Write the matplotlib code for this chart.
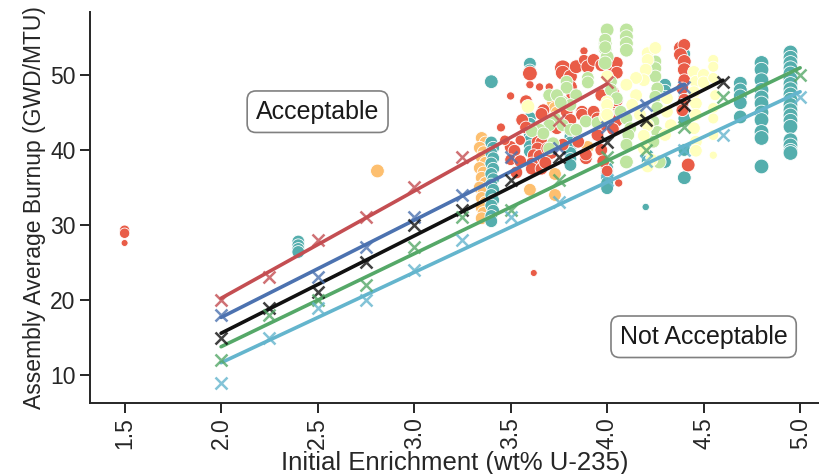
import numpy as np
import matplotlib
matplotlib.use("Agg")
import matplotlib.pyplot as plt
import seaborn as sns

# measured assemblies, one list per group: (enrichment, burnup, weight)
grp_orange = [
    (2.81, 37.2, 70),
    (3.35, 41.6, 60), (3.37, 41.0, 60), (3.34, 40.3, 60), (3.36, 39.7, 60),
    (3.35, 39.0, 60), (3.37, 38.3, 60), (3.34, 37.6, 60), (3.36, 37.0, 60),
    (3.35, 36.3, 60), (3.37, 35.6, 60), (3.34, 35.0, 60), (3.36, 34.3, 60),
    (3.35, 33.6, 60), (3.37, 33.0, 60), (3.35, 32.3, 60), (3.36, 31.6, 60),
    (3.35, 30.9, 60),
    (3.60, 34.7, 60), (3.73, 34.0, 60), (3.73, 36.8, 60),
    (3.73, 47.0, 60), (3.72, 46.3, 60), (3.73, 45.6, 60), (3.74, 45.0, 60),
    (3.73, 44.3, 60), (3.72, 43.6, 60), (3.73, 43.0, 60),
    (4.10, 53.9, 50), (3.90, 40.4, 60),
]

grp_teal = [
    (2.40, 27.8, 60), (2.40, 27.3, 60), (2.40, 26.8, 60), (2.40, 26.4, 60),
    (3.40, 49.1, 70),
    (3.40, 41.0, 60), (3.41, 40.3, 60), (3.40, 39.6, 60), (3.41, 38.9, 60),
    (3.40, 38.2, 60), (3.41, 37.5, 60), (3.40, 36.8, 60), (3.41, 36.1, 60),
    (3.40, 35.4, 60), (3.41, 34.7, 60), (3.40, 34.0, 60), (3.41, 33.3, 60),
    (3.40, 32.6, 60), (3.41, 31.9, 60), (3.40, 31.2, 60), (3.40, 30.5, 60),
    (3.60, 51.5, 60), (3.60, 50.6, 60), (3.60, 44.3, 60), (3.60, 43.5, 60),
    (3.60, 42.8, 60), (3.60, 42.0, 60), (3.60, 41.3, 60), (3.60, 40.5, 60),
    (3.60, 39.8, 60),
    (3.81, 43.3, 60), (3.81, 42.5, 60), (3.81, 41.8, 60), (3.81, 41.0, 60),
    (3.81, 40.3, 60), (3.81, 39.6, 60), (3.81, 38.8, 60), (3.81, 38.0, 60),
    (4.00, 37.6, 60), (4.00, 37.0, 60), (4.00, 36.3, 60), (4.00, 35.6, 60),
    (4.00, 34.9, 60),
    (4.21, 39.3, 60), (4.21, 38.5, 60), (4.20, 32.4, 20),
    (4.30, 48.7, 60), (4.30, 47.9, 60), (4.30, 47.1, 60), (4.30, 38.4, 60),
    (4.40, 52.8, 60), (4.40, 47.0, 60), (4.40, 45.0, 60), (4.40, 44.2, 60),
    (4.40, 40.0, 60), (4.40, 36.3, 70),
    (4.69, 48.9, 70), (4.69, 48.0, 70), (4.69, 47.2, 70), (4.69, 46.3, 70),
    (4.69, 44.4, 70),
    (4.80, 51.6, 80), (4.80, 50.7, 80), (4.80, 49.3, 80), (4.80, 48.0, 80),
    (4.80, 47.0, 80), (4.80, 46.2, 80), (4.80, 45.0, 80), (4.80, 44.0, 80),
    (4.80, 42.4, 80), (4.80, 41.6, 80), (4.80, 37.8, 80),
    (4.95, 53.0, 80), (4.95, 52.3, 80), (4.95, 51.6, 80), (4.95, 50.9, 80),
    (4.95, 50.2, 80), (4.95, 49.5, 80), (4.95, 48.8, 80), (4.95, 48.1, 80),
    (4.95, 47.4, 80), (4.95, 46.7, 80), (4.95, 46.0, 80), (4.95, 45.3, 80),
    (4.95, 44.6, 80), (4.95, 43.9, 80), (4.95, 43.1, 80), (4.95, 41.3, 80),
    (4.95, 40.6, 80), (4.95, 39.9, 80), (4.95, 39.6, 80),
]

grp_red = [
    (1.50, 29.3, 40), (1.50, 28.9, 40), (1.50, 27.6, 18),
    (3.62, 23.6, 18),
    (3.50, 47.2, 25), (3.60, 48.7, 25), (3.65, 48.4, 25), (3.70, 48.4, 25),
    (3.60, 50.2, 80), (3.77, 50.9, 100), (3.77, 50.3, 80), (3.81, 49.8, 70),
    (3.84, 51.1, 70), (3.88, 53.2, 25), (3.88, 52.0, 45), (3.90, 51.1, 70),
    (3.93, 52.0, 60), (3.97, 51.3, 60), (4.02, 51.3, 60), (4.05, 51.6, 60),
    (4.05, 50.3, 60), (3.81, 48.4, 70), (3.82, 47.3, 60), (3.79, 45.1, 60),
    (3.87, 45.1, 60), (3.87, 44.7, 60), (3.93, 45.1, 60), (3.95, 44.2, 60),
    (3.97, 43.3, 60), (4.02, 47.1, 60), (4.02, 46.2, 60), (4.05, 46.6, 60),
    (4.03, 44.7, 60), (4.05, 43.9, 60), (3.95, 42.0, 60), (3.71, 43.6, 60),
    (3.74, 42.9, 60), (3.64, 41.1, 60), (3.66, 41.0, 60), (3.64, 40.2, 60),
    (3.62, 39.3, 60), (3.65, 39.2, 60), (3.61, 38.2, 60), (3.61, 37.5, 60),
    (3.50, 40.4, 60), (3.52, 39.9, 60), (3.89, 38.9, 60), (3.89, 39.4, 60),
    (3.67, 45.3, 60), (3.66, 44.8, 60), (3.81, 44.0, 60), (3.85, 41.1, 60),
    (3.77, 40.7, 60), (3.69, 40.2, 60), (3.71, 39.6, 60), (3.97, 47.3, 60),
    (4.03, 47.7, 60), (3.45, 43.0, 30), (3.47, 41.3, 40), (3.55, 41.3, 40),
    (3.50, 38.7, 50), (3.58, 46.5, 60), (3.56, 44.0, 60), (3.58, 43.0, 60),
    (3.53, 37.0, 60), (3.55, 38.5, 60), (3.66, 37.5, 60), (3.68, 38.3, 60),
    (3.97, 40.0, 60), (3.98, 38.5, 60), (4.00, 37.2, 50), (4.06, 35.6, 25),
    (4.03, 42.8, 60),
    (4.38, 53.6, 70), (4.40, 54.0, 60), (4.38, 52.7, 70), (4.40, 51.8, 70),
    (4.40, 50.7, 70), (4.40, 49.3, 60), (4.39, 48.2, 60), (4.40, 46.7, 60),
    (4.39, 46.0, 60), (4.39, 45.3, 60), (4.42, 38.0, 70),
]

grp_green = [
    (4.00, 56.0, 70), (3.99, 54.2, 70), (3.99, 53.5, 70), (4.00, 52.4, 70),
    (3.99, 51.6, 70), (3.90, 49.6, 60), (3.90, 49.0, 60), (3.79, 49.1, 60),
    (3.79, 48.3, 60), (3.84, 47.3, 60), (3.77, 46.4, 60), (3.81, 46.0, 60),
    (3.89, 43.8, 60), (3.95, 43.6, 60), (3.73, 44.2, 60), (3.70, 43.3, 60),
    (3.65, 42.7, 60), (3.61, 42.5, 60), (3.67, 42.2, 60), (3.70, 47.3, 60),
    (3.74, 47.3, 60), (3.76, 46.3, 60), (3.77, 43.3, 60), (3.81, 42.7, 60),
    (3.84, 42.7, 60), (3.72, 40.9, 60), (3.70, 40.2, 60),
    (3.99, 54.7, 60), (3.99, 53.7, 60),
    (4.10, 56.0, 70), (4.10, 55.1, 70), (4.10, 54.2, 70), (4.10, 53.3, 70),
    (4.02, 49.1, 60), (4.02, 48.0, 60), (4.05, 46.9, 60), (4.07, 45.1, 60),
    (4.10, 44.2, 60), (4.12, 42.9, 60), (4.11, 42.0, 60), (4.10, 40.7, 60),
    (4.10, 38.4, 70),
    (4.25, 51.8, 60), (4.25, 50.9, 60), (4.25, 49.8, 60), (4.26, 48.2, 60),
    (4.25, 47.1, 60), (4.26, 45.6, 60), (4.24, 43.8, 60), (4.26, 42.4, 60),
    (4.24, 41.1, 60), (4.27, 38.4, 70),
]

grp_yellow = [
    (3.59, 45.8, 70), (4.00, 49.8, 60), (4.00, 46.4, 60), (4.00, 45.1, 60),
    (3.99, 44.4, 60), (4.00, 46.0, 60), (4.00, 44.7, 60),
    (4.21, 52.9, 60), (4.25, 53.6, 60), (4.21, 52.0, 60), (4.20, 50.7, 60),
    (4.19, 49.3, 60), (4.15, 49.6, 60), (4.10, 48.7, 60), (4.15, 47.3, 60),
    (4.13, 46.0, 60), (4.17, 44.7, 60), (4.21, 43.3, 60), (4.19, 41.9, 60),
    (4.19, 40.2, 60), (4.23, 38.7, 60), (4.21, 37.8, 60),
    (4.31, 46.9, 60), (4.31, 45.1, 60), (4.33, 43.3, 60), (4.30, 42.0, 60),
    (4.45, 50.4, 60), (4.46, 49.1, 60), (4.45, 47.7, 60), (4.46, 46.2, 60),
    (4.46, 44.7, 60), (4.45, 42.9, 60), (4.46, 41.1, 60), (4.46, 39.9, 60),
    (4.50, 50.0, 60), (4.50, 49.0, 60),
    (4.55, 52.0, 45), (4.55, 51.1, 45), (4.55, 49.6, 45), (4.56, 47.3, 45),
    (4.55, 45.6, 45), (4.55, 44.2, 45), (4.55, 42.0, 45), (4.55, 39.3, 25),
]

# limit curves: enrichment points and burnup for each curve
lim_x = {
    "r": [2.0, 2.25, 2.5, 2.75, 3.0, 3.25, 3.75, 4.0],
    "b": [2.0, 2.5, 2.75, 3.0, 3.25, 3.5, 3.75, 4.0, 4.2, 4.4],
    "k": [2.0, 2.25, 2.5, 2.75, 3.0, 3.25, 3.5, 3.75, 4.0, 4.2, 4.4, 4.6],
    "g": [2.0, 2.25, 2.5, 2.75, 3.0, 3.25, 3.5, 3.75, 4.0, 4.2, 4.4, 4.6, 5.0],
    "c": [2.0, 2.25, 2.5, 2.75, 3.0, 3.25, 3.5, 3.75, 4.0, 4.2, 4.4, 4.6, 5.0],
}
lim_y = {
    "r": [20, 23, 28, 31, 35, 39, 44, 49],
    "b": [18, 23, 27, 31, 34, 39, 40.3, 43, 46, 48.4],
    "k": [15, 19, 21, 25, 30, 32, 36, 39, 41, 44, 46, 49],
    "g": [12, 18, 20, 22, 27, 31, 32, 36, 39, 40, 43, 47, 50],
    "c": [9, 15, 19, 20, 24, 28, 31, 33, 36, 38.5, 40, 42, 47],
}
lim_col = {"r": "#c44e52", "b": "#4c72b0", "k": "#111111",
           "g": "#55a868", "c": "#64b5cd"}

sns.set_style("ticks")
plt.rcParams["font.family"] = ["Liberation Sans", "DejaVu Sans"]

fig = plt.figure(figsize=(8.2, 4.74), dpi=100)
ax = fig.add_axes([0.1098, 0.1498, 0.8902, 0.825])

pal = sns.color_palette("Spectral", 5)
groups = [(grp_orange, pal[1]), (grp_teal, pal[4]), (grp_red, pal[0]),
          (grp_green, pal[3]), (grp_yellow, pal[2])]
for pts, col in groups:
    a = np.array(pts)
    ax.scatter(a[:, 0], a[:, 1], s=a[:, 2] * 1.4, color=col,
               edgecolor="white", linewidth=0.6, zorder=2)

for key in ["r", "b", "k", "g", "c"]:
    x = np.array(lim_x[key])
    y = np.array(lim_y[key])
    m, c = np.polyfit(x, y, 1)
    xx = np.array([x.min(), x.max()])
    ax.plot(xx, m * xx + c, color=lim_col[key], lw=2.6, zorder=3)
    ax.plot(x, y, "x", color=lim_col[key], alpha=0.8, ms=8, mew=1.8, zorder=4)

box = dict(boxstyle="round,pad=0.35", fc="white", ec="0.5", lw=1.2)
ax.text(2.5, 45.1, "Acceptable", fontsize=18, ha="center", va="center",
        color="0.1", bbox=box)
ax.text(4.5, 15.1, "Not Acceptable", fontsize=18, ha="center", va="center",
        color="0.1", bbox=box)

ax.set_xlim(1.321, 5.103)
ax.set_ylim(6.27, 58.4)
ax.set_xticks([1.5, 2.0, 2.5, 3.0, 3.5, 4.0, 4.5, 5.0])
ax.set_yticks([10, 20, 30, 40, 50])
ax.tick_params(axis="x", labelrotation=90)
ax.tick_params(labelsize=16.5, length=7, width=1.4, colors="0.15")
ax.set_xlabel("Initial Enrichment (wt% U-235)", fontsize=18.5, color="0.15",
              labelpad=1)
ax.set_ylabel("Assembly Average Burnup (GWD/MTU)", fontsize=16.5,
              color="0.15", labelpad=3)
for s in ["left", "bottom"]:
    ax.spines[s].set_linewidth(1.4)
    ax.spines[s].set_color("0.15")
sns.despine(ax=ax)

fig.savefig("out.png", dpi=100)
